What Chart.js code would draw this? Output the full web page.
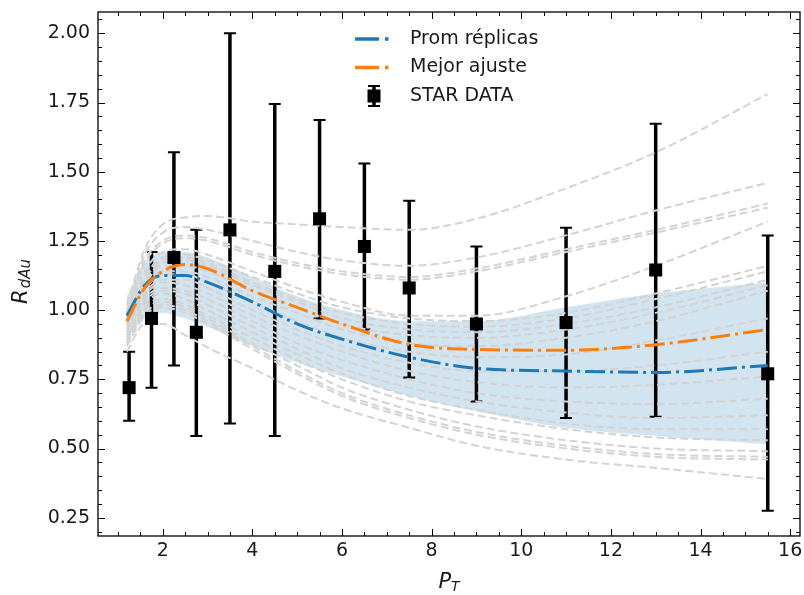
<!DOCTYPE html>
<html>
<head>
<meta charset="utf-8">
<script src="https://cdn.jsdelivr.net/npm/chart.js@4/dist/chart.umd.min.js"></script>
<style>
  html, body { margin: 0; padding: 0; background: #fff; }
  canvas { display: block; }
</style>
</head>
<body>
<canvas id="rdau" width="804" height="595"></canvas>
<script>
// --- data ---
const starX    = [1.25, 1.75, 2.25, 2.75, 3.5, 4.5, 5.5, 6.5, 7.5, 9, 11, 13, 15.5];
const starY    = [0.72, 0.97, 1.19, 0.92, 1.29, 1.14, 1.33, 1.23, 1.08, 0.95, 0.955, 1.145, 0.77];
const starLow  = [0.60, 0.72, 0.80, 0.545, 0.59, 0.545, 0.97, 0.93, 0.757, 0.67, 0.61, 0.615, 0.275];
const starHigh = [0.85, 1.21, 1.57, 1.29, 2.00, 1.745, 1.687, 1.53, 1.395, 1.23, 1.298, 1.673, 1.27];

const curveX    = [1.2, 1.6, 2, 2.5, 3, 4, 5, 6, 7.5, 9, 11, 13, 15.5];
const promRepl  = [0.98, 1.09, 1.125, 1.125, 1.10, 1.03, 0.95, 0.895, 0.83, 0.79, 0.78, 0.775, 0.80];
const mejorAj   = [0.96, 1.08, 1.14, 1.165, 1.15, 1.07, 1.01, 0.95, 0.876, 0.858, 0.855, 0.875, 0.93];
const bandUpper = [1.05, 1.17, 1.21, 1.21, 1.19, 1.12, 1.05, 1.00, 0.96, 0.96, 1.01, 1.06, 1.10];
const bandLower = [0.90, 0.97, 0.99, 0.97, 0.94, 0.87, 0.81, 0.76, 0.69, 0.635, 0.575, 0.545, 0.515];

const replicas = [
  [1.02, 1.22, 1.31, 1.335, 1.34, 1.32, 1.31, 1.30, 1.29, 1.33, 1.44, 1.57, 1.78],
  [1.00, 1.20, 1.28, 1.30, 1.29, 1.25, 1.21, 1.18, 1.16, 1.19, 1.27, 1.36, 1.46],
  [0.99, 1.18, 1.25, 1.27, 1.26, 1.21, 1.17, 1.14, 1.12, 1.15, 1.22, 1.29, 1.385],
  [0.98, 1.17, 1.24, 1.26, 1.25, 1.20, 1.16, 1.13, 1.11, 1.14, 1.21, 1.28, 1.37],
  [0.97, 1.14, 1.21, 1.22, 1.20, 1.14, 1.08, 1.03, 0.98, 0.98, 1.05, 1.16, 1.32],
  [0.96, 1.12, 1.19, 1.20, 1.18, 1.12, 1.06, 1.01, 0.97, 0.96, 0.99, 1.06, 1.16],
  [0.96, 1.11, 1.18, 1.19, 1.17, 1.10, 1.04, 0.99, 0.95, 0.94, 0.97, 1.04, 1.14],
  [0.95, 1.10, 1.17, 1.18, 1.16, 1.09, 1.03, 0.97, 0.93, 0.92, 0.95, 1.01, 1.11],
  [0.95, 1.09, 1.16, 1.16, 1.14, 1.07, 1.01, 0.95, 0.91, 0.90, 0.93, 0.99, 1.09],
  [0.94, 1.08, 1.14, 1.14, 1.12, 1.05, 0.99, 0.93, 0.88, 0.87, 0.90, 0.96, 1.07],
  [0.93, 1.07, 1.13, 1.13, 1.10, 1.03, 0.96, 0.90, 0.85, 0.83, 0.84, 0.89, 0.97],
  [0.93, 1.06, 1.11, 1.11, 1.08, 1.00, 0.93, 0.87, 0.81, 0.78, 0.78, 0.80, 0.85],
  [0.92, 1.05, 1.10, 1.09, 1.06, 0.98, 0.91, 0.85, 0.78, 0.74, 0.72, 0.73, 0.76],
  [0.91, 1.04, 1.08, 1.07, 1.04, 0.96, 0.88, 0.82, 0.75, 0.70, 0.67, 0.66, 0.68],
  [0.90, 1.03, 1.07, 1.06, 1.02, 0.94, 0.86, 0.79, 0.72, 0.67, 0.63, 0.61, 0.62],
  [0.90, 1.02, 1.06, 1.04, 1.00, 0.92, 0.84, 0.77, 0.69, 0.64, 0.59, 0.57, 0.57],
  [0.89, 1.01, 1.04, 1.02, 0.98, 0.90, 0.82, 0.75, 0.67, 0.62, 0.57, 0.54, 0.53],
  [0.88, 1.00, 1.03, 1.01, 0.97, 0.88, 0.80, 0.72, 0.64, 0.58, 0.53, 0.50, 0.49],
  [0.88, 0.99, 1.02, 1.00, 0.96, 0.87, 0.78, 0.70, 0.62, 0.56, 0.51, 0.48, 0.47],
  [0.87, 0.98, 1.01, 0.99, 0.95, 0.86, 0.77, 0.69, 0.61, 0.55, 0.50, 0.47, 0.46],
  [0.85, 0.95, 0.95, 0.91, 0.865, 0.79, 0.71, 0.645, 0.575, 0.51, 0.46, 0.43, 0.39]
];

const xTicks = [2, 4, 6, 8, 10, 12, 14, 16];
const yTicks = [0.25, 0.50, 0.75, 1.00, 1.25, 1.50, 1.75, 2.00];

const BLUE = "#1f77b4";
const ORANGE = "#ff7f0e";
const GRAY = "rgb(211,211,211)";
const FONT = "DejaVu Sans";
const TEXT = "#1a1a1a";

const pts = (xs, ys) => xs.map((x, i) => ({ x: x, y: ys[i] }));

const datasets = [];
datasets.push({
    label: "STAR DATA",
    data: pts(starX, starY),
    showLine: false,
    pointStyle: "rect",
    pointRadius: 9.2,
    backgroundColor: "#000",
    borderWidth: 0
});
datasets.push({
    label: "Mejor ajuste",
    data: pts(curveX, mejorAj),
    borderColor: ORANGE,
    borderWidth: 3,
    borderDash: [20, 5, 3, 5],
    cubicInterpolationMode: "monotone",
    pointRadius: 0
});
datasets.push({
    label: "Prom réplicas",
    data: pts(curveX, promRepl),
    borderColor: BLUE,
    borderWidth: 3,
    borderDash: [20, 5, 3, 5],
    cubicInterpolationMode: "monotone",
    pointRadius: 0
});
replicas.forEach(r => {
    datasets.push({
        data: pts(curveX, r),
        borderColor: GRAY,
        borderWidth: 2,
        borderDash: [8, 4],
        cubicInterpolationMode: "monotone",
        pointRadius: 0
    });
});
const BAND_UPPER = datasets.length;
datasets.push({
    data: pts(curveX, bandUpper),
    borderWidth: 0,
    borderColor: "rgba(0,0,0,0)",
    cubicInterpolationMode: "monotone",
    pointRadius: 0,
    fill: false
});
datasets.push({
    data: pts(curveX, bandLower),
    borderWidth: 0,
    borderColor: "rgba(0,0,0,0)",
    backgroundColor: "rgba(31,119,180,0.2)",
    cubicInterpolationMode: "monotone",
    pointRadius: 0,
    fill: "-1"
});

function drawErrorBars(chart) {
    const ctx = chart.ctx;
    const sx = chart.scales.x, sy = chart.scales.y;
    ctx.save();
    ctx.strokeStyle = "#000";
    starX.forEach((x, i) => {
        const px = sx.getPixelForValue(x);
        const lo = sy.getPixelForValue(starLow[i]);
        const hi = sy.getPixelForValue(starHigh[i]);
        ctx.lineWidth = 3.5;
        ctx.beginPath();
        ctx.moveTo(px, lo);
        ctx.lineTo(px, hi);
        ctx.stroke();
        ctx.lineWidth = 2;
        ctx.beginPath();
        ctx.moveTo(px - 6, lo); ctx.lineTo(px + 6, lo);
        ctx.moveTo(px - 6, hi); ctx.lineTo(px + 6, hi);
        ctx.stroke();
    });
    ctx.restore();
}

function drawTicks(chart) {
    const ctx = chart.ctx;
    const a = chart.chartArea;
    const sx = chart.scales.x, sy = chart.scales.y;
    ctx.save();
    ctx.strokeStyle = "#000";
    ctx.lineWidth = 1;
    ctx.beginPath();
    // x ticks, bottom and top, pointing inward
    for (let v = Math.ceil(sx.min * 2) / 2; v <= sx.max; v += 0.5) {
        const len = Number.isInteger(v / 2) ? 7 : 4;
        const p = Math.round(sx.getPixelForValue(v)) + 0.5;
        ctx.moveTo(p, a.bottom); ctx.lineTo(p, a.bottom - len);
        ctx.moveTo(p, a.top); ctx.lineTo(p, a.top + len);
    }
    for (let k = Math.ceil(sy.min * 20); k <= Math.floor(sy.max * 20); k++) {
        const len = k % 5 === 0 ? 7 : 4;
        const p = Math.round(sy.getPixelForValue(k / 20)) + 0.5;
        ctx.moveTo(a.left, p); ctx.lineTo(a.left + len, p);
        ctx.moveTo(a.right, p); ctx.lineTo(a.right - len, p);
    }
    ctx.stroke();
    ctx.lineWidth = 1.3;
    ctx.strokeRect(a.left, a.top, a.right - a.left, a.bottom - a.top);
    ctx.restore();
}

function drawTitles(chart) {
    const ctx = chart.ctx;
    const a = chart.chartArea;
    ctx.save();
    ctx.fillStyle = TEXT;
    ctx.textBaseline = "alphabetic";
    ctx.textAlign = "left";

    // y title R_dAu
    ctx.translate(27, 282);
    ctx.rotate(-Math.PI / 2);
    ctx.font = "italic 21px " + FONT;
    const wR = ctx.measureText("R").width;
    ctx.font = "italic 15px " + FONT;
    const wS = ctx.measureText("dAu").width;
    let start = -(wR + wS) / 2;
    ctx.font = "italic 21px " + FONT;
    ctx.fillText("R", start, 0);
    ctx.font = "italic 15px " + FONT;
    ctx.fillText("dAu", start + wR + 1, 3);
    ctx.setTransform(1, 0, 0, 1, 0, 0);

    // x title P_T
    ctx.font = "italic 21px " + FONT;
    const wP = ctx.measureText("P").width;
    ctx.font = "italic 14px " + FONT;
    const wT = ctx.measureText("T").width;
    const cx = (a.left + a.right) / 2;
    start = cx - (wP + wT) / 2;
    ctx.font = "italic 21px " + FONT;
    ctx.fillText("P", start, 588);
    ctx.font = "italic 14px " + FONT;
    ctx.fillText("T", start + wP, 591);
    ctx.restore();
}

function drawLegend(chart) {
    const ctx = chart.ctx;
    const rows = [
        { label: "Prom réplicas", color: BLUE, y: 39 },
        { label: "Mejor ajuste", color: ORANGE, y: 67.5 },
        { label: "STAR DATA", color: null, y: 96 }
    ];
    ctx.save();
    rows.forEach(r => {
        if (r.color) {
            ctx.strokeStyle = r.color;
            ctx.lineWidth = 3.5;
            ctx.setLineDash([24, 6, 3.5, 6]);
            ctx.beginPath();
            ctx.moveTo(355, r.y);
            ctx.lineTo(393, r.y);
            ctx.stroke();
            ctx.setLineDash([]);
        } else {
            ctx.strokeStyle = "#000";
            ctx.fillStyle = "#000";
            ctx.lineWidth = 3.5;
            ctx.beginPath();
            ctx.moveTo(374, r.y - 10); ctx.lineTo(374, r.y + 10);
            ctx.stroke();
            ctx.lineWidth = 2;
            ctx.beginPath();
            ctx.moveTo(368, r.y - 10); ctx.lineTo(380, r.y - 10);
            ctx.moveTo(368, r.y + 10); ctx.lineTo(380, r.y + 10);
            ctx.stroke();
            ctx.fillRect(374 - 6.5, r.y - 6.5, 13, 13);
        }
        ctx.fillStyle = TEXT;
        ctx.font = "19px " + FONT;
        ctx.textBaseline = "middle";
        ctx.textAlign = "left";
        ctx.fillText(r.label, 410, r.y);
    });
    ctx.restore();
}

const decor = {
    id: "decor",
    afterDatasetDraw(chart, args) {
        if (args.index === BAND_UPPER) drawErrorBars(chart);
    },
    afterDraw(chart) {
        drawTicks(chart);
        drawTitles(chart);
        drawLegend(chart);
    }
};

const noPad = s => {
    s.paddingTop = 0; s.paddingBottom = 0;
    s.paddingLeft = 0; s.paddingRight = 0;
};

new Chart(document.getElementById("rdau"), {
    type: "line",
    data: { datasets: datasets },
    plugins: [decor],
    options: {
        responsive: false,
        animation: false,
        devicePixelRatio: 1,
        layout: { autoPadding: false, padding: { top: 12, right: 4, left: 0, bottom: 0 } },
        plugins: {
            legend: { display: false },
            tooltip: { enabled: false }
        },
        scales: {
            x: {
                type: "linear",
                min: 0.556,
                max: 16.22,
                afterBuildTicks: s => { s.ticks = xTicks.map(v => ({ value: v })); },
                afterFit: s => { s.height = 59; noPad(s); },
                grid: { display: false, drawTicks: false },
                border: { display: false },
                ticks: {
                    font: { family: FONT, size: 19 },
                    color: TEXT,
                    padding: 4,
                    maxRotation: 0,
                    autoSkip: false,
                    callback: v => String(v)
                }
            },
            y: {
                type: "linear",
                min: 0.184,
                max: 2.077,
                afterBuildTicks: s => { s.ticks = yTicks.map(v => ({ value: v })); },
                afterFit: s => { s.width = 98; noPad(s); },
                grid: { display: false, drawTicks: false },
                border: { display: false },
                ticks: {
                    font: { family: FONT, size: 19 },
                    color: TEXT,
                    padding: 8,
                    autoSkip: false,
                    callback: v => v.toFixed(2)
                }
            }
        }
    }
});
</script>
</body>
</html>
